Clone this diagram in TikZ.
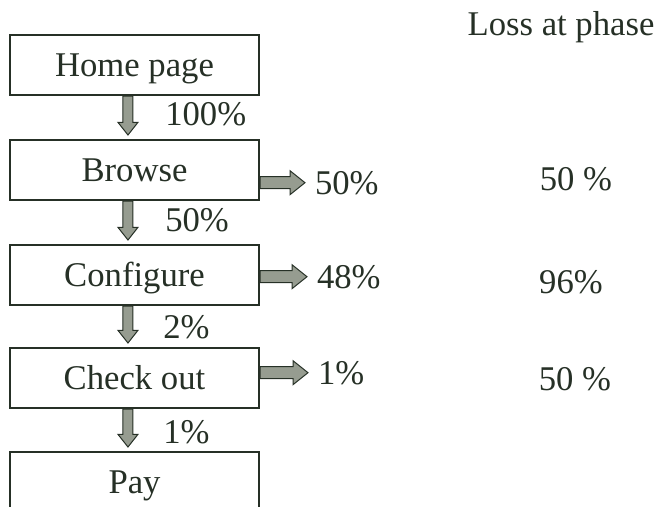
\documentclass[tikz,border=0pt]{standalone}
\usepackage{fontspec}
\setmainfont{Liberation Serif}
\usetikzlibrary{calc}
\definecolor{ink}{RGB}{38,48,38}
\definecolor{shade}{RGB}{150,156,144}

\begin{document}
\begin{tikzpicture}[x=0.75pt, y=-0.75pt,
        every node/.style={font=\fontsize{26}{30}\selectfont, text=ink},
        stage/.style={draw=ink, line width=1.5pt, fill=white, minimum width=186.75pt, minimum height=45pt, text height=17pt, text depth=0pt, inner sep=0pt},
        flow/.style={anchor=base west, inner sep=0pt},
        lost/.style={anchor=base west, inner sep=0pt, outer xsep=7.5pt},
        phase/.style={anchor=base, inner sep=0pt},
        downflow/.style={draw=ink, fill=shade, line width=0.75pt, to path={let \p1=(\tikztostart), \p2=(\tikztotarget) in
            (\x1-3.75pt,\y1) -- (\x1-3.75pt,\y2+9.5pt) -- (\x1-7.5pt,\y2+9.5pt) -- (\x1,\y2) -- (\x1+7.5pt,\y2+9.5pt) -- (\x1+3.75pt,\y2+9.5pt) -- (\x1+3.75pt,\y1) -- cycle}},
        outflow/.style={draw=ink, fill=shade, line width=0.75pt, to path={let \p1=(\tikztostart), \p2=(\tikztotarget) in
            (\x1,\y1+4.5pt) -- (\x2-11.25pt,\y1+4.5pt) -- (\x2-11.25pt,\y1+9pt) -- (\x2,\y1) -- (\x2-11.25pt,\y1-9pt) -- (\x2-11.25pt,\y1-4.5pt) -- (\x1,\y1-4.5pt) -- cycle}}
    ]
        \useasboundingbox (0,0) rectangle (661,507);

        % Phasen
        \node[stage] (home) at (134.5,65) {Home page};
        \node[stage] (browse) at (134.5,170) {Browse};
        \node[stage] (config) at (134.5,275) {Configure};
        \node[stage] (checkout) at (134.5,378) {Check out};
        \node[stage] (pay) at (134.5,482) {Pay};

        % Weiter
        \node[flow] (go100) at (165,125) {100\%};
        \node[flow] (go50) at (165,231) {50\%};
        \node[flow] (go2) at (163,338) {2\%};
        \node[flow] (go1) at (163,443) {1\%};

        \draw[downflow] ([xshift=-4.9pt]home.south) to ([xshift=-4.9pt,yshift=3pt]browse.north);
        \draw[downflow] ([xshift=-4.9pt]browse.south) to ([xshift=-4.9pt,yshift=3pt]config.north);
        \draw[downflow] ([xshift=-4.9pt]config.south) to ([xshift=-4.9pt,yshift=3pt]checkout.north);
        \draw[downflow] ([xshift=-4.9pt]checkout.south) to ([xshift=-4.9pt,yshift=3pt]pay.north);

        % Abbruch
        \node[lost] (out50) at (305,194) {50\%};
        \node[lost] (out48) at (307,288) {48\%};
        \node[lost] (out1) at (308,384) {1\%};

        \draw[outflow] (browse.east |- out50.west) to (out50.west);
        \draw[outflow] (config.east |- out48.west) to (out48.west);
        \draw[outflow] (checkout.east |- out1.west) to (out1.west);

        % Verlust
        \node[phase] (losshead) at (561,35) {Loss at phase};
        \node[phase] (loss1) at (576,190) {50 \%};
        \node[phase] (loss2) at (571,293) {96\%};
        \node[phase] (loss3) at (575,390) {50 \%};
\end{tikzpicture}
\end{document}
